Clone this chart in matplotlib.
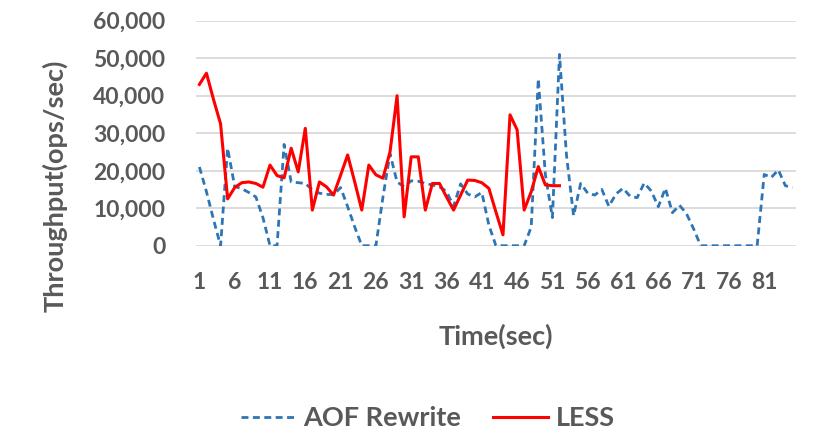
import numpy as np
import matplotlib
matplotlib.use('Agg')
from matplotlib import pyplot as plt
from matplotlib.ticker import FuncFormatter

# throughput per second
aof_rewrite = [21000, 14400, 7000, 0, 26000, 15800, 15200, 14200, 13000, 7500,
               0, 0, 27000, 17000, 16800, 16600, 14900, 14000, 13700, 13600,
               15500, 10400, 5000, 0, 0, 0, 13000, 24500, 17000, 15700,
               17300, 17200, 16600, 16200, 15700, 14500, 10500, 16500, 13800, 13000,
               14200, 5500, 0, 0, 0, 0, 0, 5000, 44500, 19000,
               7500, 51000, 24000, 8000, 16600, 14000, 13500, 15000, 10500, 13800,
               15300, 13200, 12800, 16700, 14600, 10400, 15300, 8800, 10800, 8500,
               4500, 0, 0, 0, 0, 0, 0, 0, 0, 0,
               19000, 18200, 20200, 16000, 15500]
less = [43000, 46000, 39000, 32500, 12500, 15500, 16800, 17000, 16600, 15600,
        21500, 18700, 18100, 26000, 19700, 31300, 9500, 17000, 15700, 13500,
        18800, 24200, 17000, 9500, 21500, 18900, 18000, 25000, 40000, 7700,
        23700, 23700, 9500, 16600, 16600, 13000, 9500, 13500, 17500, 17400,
        16800, 15300, 9000, 2900, 34900, 30900, 9500, 14400, 21100, 16200,
        16000, 16000]
x_ticks = list(range(1, 82, 5))

t_aof = np.arange(1, len(aof_rewrite) + 1)
t_less = np.arange(1, len(less) + 1)

txt = '#595959'
plt.rcParams['font.family'] = ['Lato', 'DejaVu Sans']
plt.rcParams['font.weight'] = 'bold'

fig = plt.figure(figsize=(8.37, 4.44), dpi=100)
ax = fig.add_axes([0.234, 0.4466, 0.717, 0.5068])

ax.plot(t_aof, aof_rewrite, color='#2e75b6', lw=2.0, dashes=(2.5, 1.6), label='AOF Rewrite')
ax.plot(t_less, less, color='#ff0000', lw=2.2, label='LESS')

ax.set_xlim(0.5, 85.5)
ax.set_ylim(0, 60000)
ax.set_yticks(range(0, 60001, 10000))
ax.yaxis.set_major_formatter(FuncFormatter(lambda v, p: '{:,.0f}'.format(v)))
ax.set_xticks(x_ticks)
ax.grid(axis='y', color='#d9d9d9', lw=1.3)
ax.set_axisbelow(True)
for s in ax.spines.values():
    s.set_visible(False)
ax.tick_params(axis='both', length=0, labelsize=16.5, labelcolor=txt)
ax.tick_params(axis='y', pad=22)
ax.tick_params(axis='x', pad=19)

fig.text(0.593, 0.243, 'Time(sec)', ha='center', va='center', fontsize=19.5, color=txt)
fig.text(0.0657, 0.581, 'Throughput(ops/sec)', ha='center', va='center', rotation=90,
         fontsize=19.5, color=txt)

fig.legend(loc='center', bbox_to_anchor=(0.511, 0.0586), ncol=2, frameon=False,
           fontsize=19.5, labelcolor=txt, handlelength=2.0, handletextpad=0.3,
           columnspacing=1.2)

fig.savefig('out.png', dpi=100)
